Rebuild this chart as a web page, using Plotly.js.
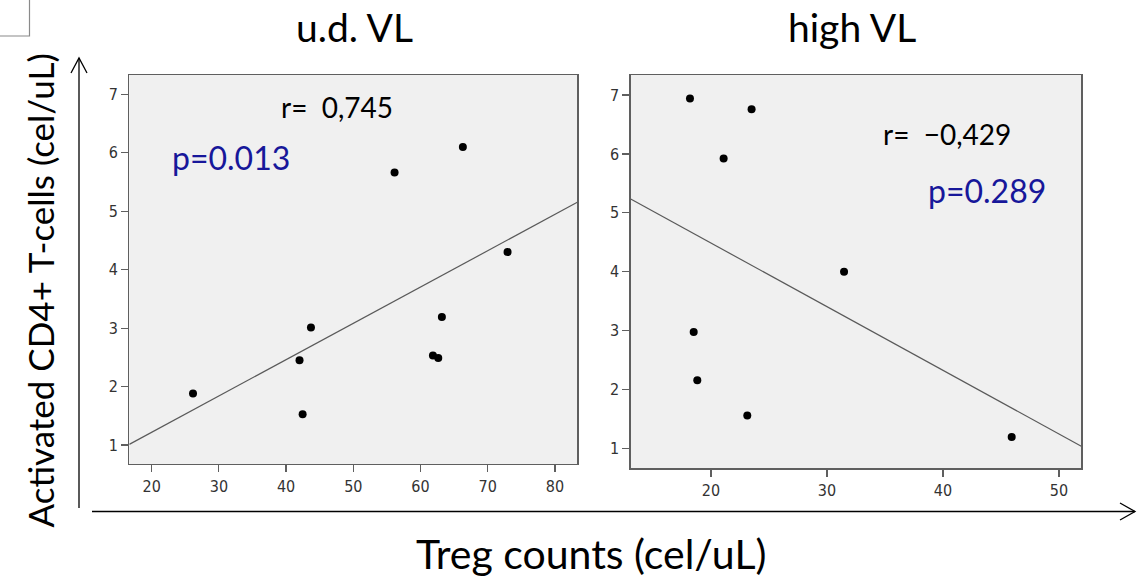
<!DOCTYPE html>
<html>
<head>
<meta charset="utf-8">
<script src="https://cdn.plot.ly/plotly-3.0.1.min.js"></script>
<style>
  html, body { margin: 0; padding: 0; background: #ffffff; }
  #chart { width: 1148px; height: 580px; }
</style>
</head>
<body>
<div id="chart"></div>
<script>
// Undetectable viral load group: Treg counts vs activated CD4+ T-cells
const udTreg = [26.15, 42.0, 42.46, 43.7, 56.14, 66.3, 61.85, 62.64, 63.18, 72.95];
const udCD4  = [1.88, 2.45, 1.525, 3.01, 5.66, 6.10, 2.53, 2.49, 3.19, 4.30];

// High viral load group
const hiTreg = [18.19, 23.5, 21.09, 31.47, 18.51, 18.82, 23.13, 45.92];
const hiCD4  = [6.94, 6.76, 5.92, 4.0, 2.975, 2.155, 1.555, 1.19];

const panelTitles = ['u.d. VL', 'high VL'];
const rLabels = ['r=\u00a0 0,745', 'r=\u00a0 \u22120,429'];
const pLabels = ['p=0.013', 'p=0.289'];
const yTitle = 'Activated CD4+ T-cells (cel/uL)';
const xTitle = 'Treg counts (cel/uL)';

const udXRange = [16.67, 83.33], udYRange = [0.675, 7.33];
const hiXRange = [13.08, 51.92], hiYRange = [0.66, 7.34];

const W = 1148, H = 580;
const px = x => x / W;
const py = y => 1 - y / H;

// Least-squares fit line spanning the full axis range
function fitLine(xs, ys, range) {
  const n = xs.length;
  const mx = xs.reduce((a, b) => a + b, 0) / n;
  const my = ys.reduce((a, b) => a + b, 0) / n;
  let sxy = 0, sxx = 0;
  for (let i = 0; i < n; i++) {
    sxy += (xs[i] - mx) * (ys[i] - my);
    sxx += (xs[i] - mx) * (xs[i] - mx);
  }
  const b = sxy / sxx, a = my - b * mx;
  return { x: range, y: range.map(v => a + b * v) };
}

const udFit = fitLine(udTreg, udCD4, udXRange);
const hiFit = fitLine(hiTreg, hiCD4, hiXRange);

const lineStyle = { color: '#5a5a5a', width: 1.2 };
const markerStyle = { color: '#000000', size: 8 };

const traces = [
  { x: udFit.x, y: udFit.y, mode: 'lines', line: lineStyle, xaxis: 'x', yaxis: 'y', hoverinfo: 'skip' },
  { x: udTreg, y: udCD4, mode: 'markers', marker: markerStyle, xaxis: 'x', yaxis: 'y' },
  { x: hiFit.x, y: hiFit.y, mode: 'lines', line: lineStyle, xaxis: 'x2', yaxis: 'y2', hoverinfo: 'skip' },
  { x: hiTreg, y: hiCD4, mode: 'markers', marker: markerStyle, xaxis: 'x2', yaxis: 'y2' }
];

const tickFont = { family: '"Liberation Sans Narrow", "DejaVu Sans Condensed", sans-serif', size: 16, color: '#333333' };
const axisBase = {
  showgrid: false, zeroline: false,
  showline: true, mirror: true, linecolor: '#5f5f5f', linewidth: 1.3,
  ticks: 'outside', ticklen: 7, tickcolor: '#5f5f5f', tickwidth: 1.2,
  tickfont: tickFont, fixedrange: true
};

const txt = '"Lato", "Open Sans", sans-serif';
const navy = '#17179a';

const layout = {
  width: W, height: H,
  margin: { l: 0, r: 0, t: 0, b: 0 },
  paper_bgcolor: '#ffffff',
  plot_bgcolor: '#f0f0f0',
  showlegend: false,
  xaxis:  Object.assign({}, axisBase, { domain: [px(129.3), px(577.3)], range: udXRange, dtick: 10, tick0: 0, anchor: 'y' }),
  yaxis:  Object.assign({}, axisBase, { domain: [py(464), py(75)], range: udYRange, dtick: 1, tick0: 0, anchor: 'x' }),
  xaxis2: Object.assign({}, axisBase, { domain: [px(630.7), px(1081.3)], range: hiXRange, dtick: 10, tick0: 0, anchor: 'y2' }),
  yaxis2: Object.assign({}, axisBase, { domain: [py(468.3), py(75)], range: hiYRange, dtick: 1, tick0: 0, anchor: 'x2' }),
  annotations: [
    { text: panelTitles[0], x: px(354.5), y: py(27), xref: 'paper', yref: 'paper', xanchor: 'center', yanchor: 'middle', showarrow: false, font: { family: txt, size: 39, color: '#000' } },
    { text: panelTitles[1], x: px(852), y: py(27), xref: 'paper', yref: 'paper', xanchor: 'center', yanchor: 'middle', showarrow: false, font: { family: txt, size: 39, color: '#000' } },
    { text: rLabels[0], x: px(279), y: py(107.5), xref: 'paper', yref: 'paper', xanchor: 'left', yanchor: 'middle', showarrow: false, font: { family: txt, size: 28, color: '#000' } },
    { text: pLabels[0], x: px(169.5), y: py(157.5), xref: 'paper', yref: 'paper', xanchor: 'left', yanchor: 'middle', showarrow: false, font: { family: txt, size: 32, color: navy } },
    { text: rLabels[1], x: px(880.5), y: py(134), xref: 'paper', yref: 'paper', xanchor: 'left', yanchor: 'middle', showarrow: false, font: { family: txt, size: 28, color: '#000' } },
    { text: pLabels[1], x: px(925.5), y: py(190), xref: 'paper', yref: 'paper', xanchor: 'left', yanchor: 'middle', showarrow: false, font: { family: txt, size: 32, color: navy } },
    { text: yTitle, x: px(39), y: py(290.5), xref: 'paper', yref: 'paper', xanchor: 'center', yanchor: 'middle', textangle: -90, showarrow: false, font: { family: txt, size: 35, color: '#000' } },
    { text: xTitle, x: px(590.5), y: py(553), xref: 'paper', yref: 'paper', xanchor: 'center', yanchor: 'middle', showarrow: false, font: { family: txt, size: 41, color: '#000' } }
  ],
  shapes: [
    // vertical axis arrow
    { type: 'line', xref: 'paper', yref: 'paper', x0: px(79), x1: px(79), y0: py(508), y1: py(58), line: { color: '#000', width: 1.3 } },
    { type: 'path', xref: 'paper', yref: 'paper',
      path: `M ${px(71)} ${py(73)} L ${px(79)} ${py(58)} L ${px(87)} ${py(73)}`, line: { color: '#000', width: 1.3 } },
    // horizontal axis arrow
    { type: 'line', xref: 'paper', yref: 'paper', x0: px(92), x1: px(1135), y0: py(511.5), y1: py(511.5), line: { color: '#000', width: 1.3 } },
    { type: 'path', xref: 'paper', yref: 'paper',
      path: `M ${px(1120)} ${py(503)} L ${px(1135)} ${py(511.5)} L ${px(1120)} ${py(520)}`, line: { color: '#000', width: 1.3 } },
    // corner box edge
    { type: 'path', xref: 'paper', yref: 'paper',
      path: `M ${px(29.5)} ${py(0)} L ${px(29.5)} ${py(36)} L ${px(0)} ${py(36)}`, line: { color: '#8a8a8a', width: 1.2 } }
  ]
};

Plotly.newPlot('chart', traces, layout, { staticPlot: true, displayModeBar: false });
</script>
</body>
</html>
